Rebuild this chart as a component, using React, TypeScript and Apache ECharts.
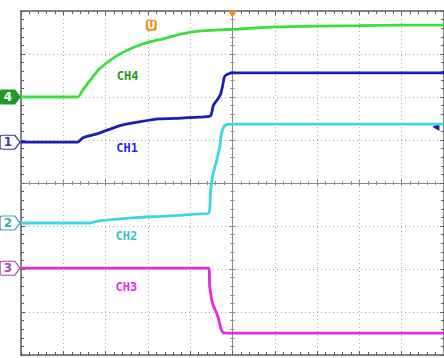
import React, { useEffect, useRef } from "react";
import * as echarts from "echarts";

// Time axis in divisions (-5..5), voltage axis in divisions (-4..4)
const ch4X = [-5, -3.66, -3.54, -3.38, -3.15, -2.75, -2.37, -1.97, -1.57, -1.2, -0.8, -0.33, 0.14, 0.99, 2.0, 2.98, 3.99, 5];
const ch4Y = [2.0, 2.0, 2.16, 2.37, 2.65, 2.95, 3.14, 3.28, 3.37, 3.47, 3.53, 3.56, 3.58, 3.63, 3.65, 3.66, 3.67, 3.67];

const ch1X = [-5, -3.66, -3.54, -3.15, -2.68, -2.21, -1.74, -1.2, -0.8, -0.52, -0.45, -0.35, -0.28, -0.23, -0.19, -0.12, 0.02, 5];
const ch1Y = [0.95, 0.95, 1.05, 1.16, 1.33, 1.42, 1.49, 1.51, 1.53, 1.56, 1.81, 1.95, 2.07, 2.28, 2.47, 2.53, 2.56, 2.56];

const ch2X = [-5, -3.38, -3.15, -2.37, -1.57, -0.8, -0.56, -0.52, -0.47, -0.38, -0.31, -0.26, -0.19, -0.09, 5];
const ch2Y = [-0.93, -0.93, -0.88, -0.81, -0.77, -0.72, -0.7, -0.19, 0.16, 0.51, 0.79, 1.16, 1.33, 1.37, 1.37];

const ch3X = [-5, -0.56, -0.54, -0.49, -0.45, -0.38, -0.33, -0.28, -0.23, -0.16, 5];
const ch3Y = [-1.98, -1.98, -2.4, -2.72, -2.86, -3.02, -3.16, -3.37, -3.47, -3.49, -3.49];

const channelNames = ["CH4", "CH1", "CH2", "CH3"];
const channelNumbers = ["4", "1", "2", "3"];
const channelOffsets = [2.0, 0.95, -0.93, -1.98];
const labelPos: [number, number][] = [[-2.48, 2.49], [-2.49, 0.81], [-2.51, -1.23], [-2.51, -2.42]];
const traceColors = ["#3ce03a", "#1d1db8", "#3cd6e4", "#e02ce0"];
const textColors = ["#1f961f", "#2a2ae0", "#36c4cc", "#e030e8"];
const markerEdge = ["#1f9a2a", "#3a3aa8", "#3aacb0", "#b04aa8"];
const markerFilled = [true, false, false, false];
const xs = [ch4X, ch1X, ch2X, ch3X];
const ys = [ch4Y, ch1Y, ch2Y, ch3Y];

const triggerLevel: [number, number] = [4.81, 1.3];
const triggerPos: [number, number] = [0, 4];
const uMarker: [number, number] = [-1.92, 3.67];

const border = "#5e5e5e";
const dot = "#a9a9a9";

function xAx(grid: number, opts: any) {
  return {
    gridIndex: grid, type: "value", min: -5, max: 5, interval: 1,
    axisLabel: { show: false },
    ...opts,
  };
}
function yAx(grid: number, opts: any) {
  return {
    gridIndex: grid, type: "value", min: -4, max: 4, interval: 1,
    axisLabel: { show: false },
    ...opts,
  };
}

const frameLine = { show: true, onZero: false, lineStyle: { color: border, width: 1.5 } };
const tickIn = { show: true, inside: true, length: 4, lineStyle: { color: border } };
const minorIn = { show: true, splitNumber: 5, length: 3, lineStyle: { color: border } };
const centerLine = { show: true, onZero: true, lineStyle: { color: "#8a8a8a", width: 1 } };
const cTickIn = { show: true, inside: true, length: 3, lineStyle: { color: "#8a8a8a" } };
const cTickOut = { show: true, inside: false, length: 3, lineStyle: { color: "#8a8a8a" } };
const cMinor = { show: true, splitNumber: 5, length: 2, lineStyle: { color: "#8a8a8a" } };
const split = { show: true, lineStyle: { color: dot, type: [1, 3], width: 1 } };
const noSplit = { show: false };

export default function App() {
  const ref = useRef<HTMLDivElement>(null);
  useEffect(() => {
    if (!ref.current) return;
    const chart = echarts.init(ref.current, null, { renderer: "svg" });
    const gridRect = { left: 21, top: 11, width: 426, height: 344 };
    const series: any[] = xs.map((xArr, i) => {
      const mp: any[] = [
        {
          coord: [-5, channelOffsets[i]],
          symbol: "path://M2,0 L14,0 L19,7 L14,14 L2,14 Q0,14 0,12 L0,2 Q0,0 2,0 Z",
          symbolSize: [20, 14],
          symbolOffset: [-11, 0],
          itemStyle: {
            color: markerFilled[i] ? markerEdge[i] : "#ffffff",
            borderColor: markerEdge[i],
            borderWidth: 1.2,
          },
          label: {
            show: true,
            position: "inside",
            offset: [-2, 0],
            formatter: channelNumbers[i],
            color: markerFilled[i] ? "#ffffff" : markerEdge[i],
            fontSize: 12,
            fontWeight: "bold",
            fontFamily: "DejaVu Sans",
          },
        },
        {
          coord: labelPos[i],
          symbol: "rect",
          symbolSize: 1,
          itemStyle: { color: "rgba(0,0,0,0)" },
          label: {
            show: true,
            position: "inside",
            formatter: channelNames[i],
            color: textColors[i],
            fontSize: 12,
            fontWeight: "bold",
            fontFamily: "DejaVu Sans Mono",
          },
        },
      ];
      if (i === 1) {
        mp.push({
          coord: triggerLevel,
          symbol: "triangle",
          symbolRotate: 90,
          symbolSize: [8, 7],
          itemStyle: { color: "#1d1db8" },
          label: { show: false },
        });
      }
      if (i === 0) {
        mp.push({
          coord: triggerPos,
          symbol: "triangle",
          symbolRotate: 180,
          symbolSize: [9, 7],
          symbolOffset: [0, 3],
          itemStyle: { color: "#f08a1e" },
          label: { show: false },
        });
        mp.push({
          coord: uMarker,
          symbol: "roundRect",
          symbolSize: [11, 11],
          itemStyle: { color: "#f0901e" },
          label: {
            show: true, position: "inside", formatter: "U", color: "#ffffff",
            fontSize: 10, fontWeight: "bold", fontFamily: "DejaVu Sans",
          },
        });
      }
      return {
        type: "line",
        name: channelNames[i],
        xAxisIndex: 0,
        yAxisIndex: 0,
        data: xArr.map((x, k) => [x, ys[i][k]]),
        showSymbol: false,
        symbol: "none",
        smooth: 0.2,
        lineStyle: { color: traceColors[i], width: 2.8 },
        itemStyle: { color: traceColors[i] },
        markPoint: { data: mp, silent: true, animation: false },
        z: 5 + i,
      };
    });

    chart.setOption({
      animation: false,
      backgroundColor: "#ffffff",
      grid: [gridRect, gridRect, gridRect],
      xAxis: [
        xAx(0, { position: "bottom", axisLine: frameLine, axisTick: tickIn, minorTick: minorIn, splitLine: split }),
        xAx(0, { position: "top", axisLine: frameLine, axisTick: tickIn, minorTick: minorIn, splitLine: noSplit }),
        xAx(1, { position: "bottom", axisLine: centerLine, axisTick: cTickIn, minorTick: cMinor, splitLine: noSplit }),
        xAx(2, { position: "bottom", axisLine: centerLine, axisTick: cTickOut, minorTick: cMinor, splitLine: noSplit }),
      ],
      yAxis: [
        yAx(0, { position: "left", axisLine: frameLine, axisTick: tickIn, minorTick: minorIn, splitLine: split }),
        yAx(0, { position: "right", axisLine: frameLine, axisTick: tickIn, minorTick: minorIn, splitLine: noSplit }),
        yAx(1, { position: "left", axisLine: centerLine, axisTick: cTickIn, minorTick: cMinor, splitLine: noSplit }),
        yAx(2, { position: "left", axisLine: centerLine, axisTick: cTickOut, minorTick: cMinor, splitLine: noSplit }),
      ],
      series,
    });
    return () => chart.dispose();
  }, []);
  return (
    <div
      ref={ref}
      style={{ position: "fixed", left: 0, top: 0, width: 444, height: 358, background: "#fff" }}
    />
  );
}
